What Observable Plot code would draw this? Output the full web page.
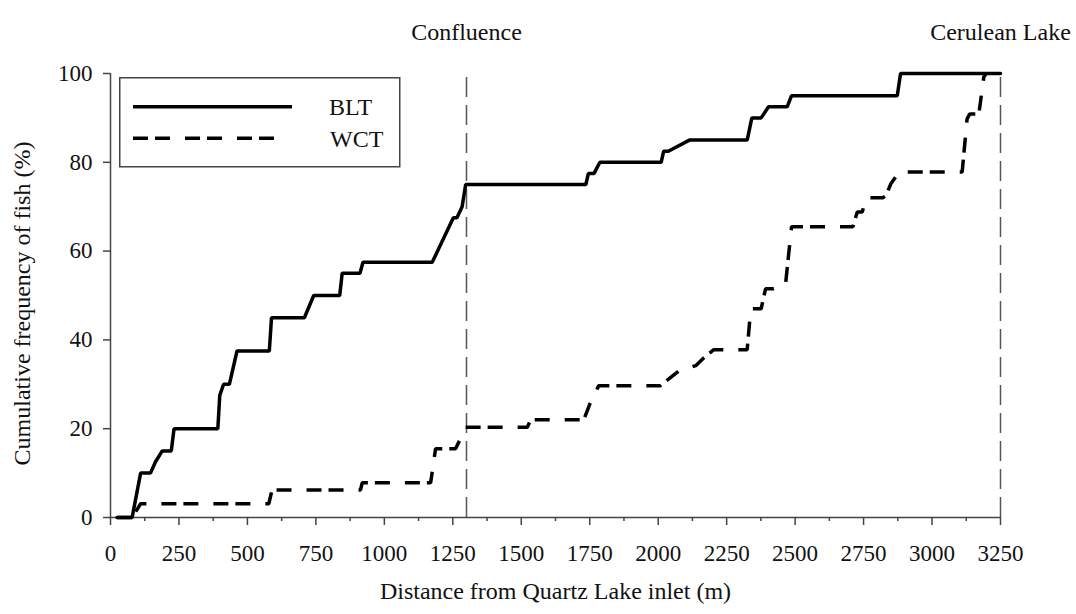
<!DOCTYPE html>
<html><head><meta charset="utf-8">
<script src="https://cdn.jsdelivr.net/npm/d3@7"></script>
<script src="https://cdn.jsdelivr.net/npm/@observablehq/plot@0.6"></script>
<style>
html,body{margin:0;padding:0;background:#fff;}
#chart{position:relative;width:1076px;height:614px;}
#legend{position:absolute;left:119px;top:77px;font-family:'Liberation Serif','Times New Roman',serif;}
</style></head><body><div id="chart"></div>
<script>
// Distance from Quartz Lake inlet (m) and cumulative frequency (%)
const bltX = [24, 79, 110, 146, 164, 189, 222, 232, 392, 399, 413, 434, 462, 580, 588, 708, 742, 837, 846, 911, 922, 1175, 1252, 1265, 1284, 1297, 1736, 1745, 1766, 1787, 2011, 2020, 2037, 2114, 2325, 2342, 2376, 2403, 2471, 2487, 2873, 2885, 3250];
const bltY = [0, 0, 10, 10, 12.5, 15, 15, 20, 20, 27.5, 30, 30, 37.5, 37.5, 45, 45, 50, 50, 55, 55, 57.5, 57.5, 67.5, 67.5, 70, 75, 75, 77.5, 77.5, 80, 80, 82.5, 82.5, 85, 85, 90, 90, 92.5, 92.5, 95, 95, 100, 100];
const wctX = [24, 79, 110, 578, 590, 913, 919, 1169, 1187, 1260, 1280, 1296, 1522, 1534, 1728, 1750, 1783, 2008, 2075, 2137, 2167, 2203, 2325, 2338, 2376, 2392, 2422, 2465, 2487, 2711, 2727, 2745, 2760, 2820, 2832, 2849, 2880, 3110, 3128, 3138, 3171, 3189, 3198];
const wctY = [0, 0, 3.1, 3.1, 6.2, 6.2, 7.8, 7.8, 15.5, 15.5, 18, 20.3, 20.3, 22, 22, 25.5, 29.7, 29.7, 33, 34.2, 36, 37.8, 37.8, 47, 47, 51.5, 51.5, 52.5, 65.5, 65.5, 68.8, 68.8, 72, 72, 72.5, 75.1, 77.8, 77.8, 89.8, 90.9, 90.9, 99.2, 100];
const landmarkNames = ["Confluence", "Cerulean Lake"];
const landmarkX = [1300, 3250];
const xTicks = [0, 250, 500, 750, 1000, 1250, 1500, 1750, 2000, 2250, 2500, 2750, 3000, 3250];
const xMinorTicks = [125, 375, 625, 875, 1125, 1375, 1625, 1875, 2125, 2375, 2625, 2875, 3125];
const yTicks = [0, 20, 40, 60, 80, 100];
const xLabel = "Distance from Quartz Lake inlet (m)";
const yLabel = "Cumulative frequency of fish (%)";
const seriesNames = ["BLT", "WCT"];

const blt = bltX.map((x, i) => ({x, y: bltY[i]}));
const wct = wctX.map((x, i) => ({x, y: wctY[i]}));
const landmarks = landmarkX.map((x, i) => ({x, name: landmarkNames[i]}));
const font = "'Liberation Serif','Times New Roman',serif";
const dashWCT = "15,7,15,15";

const plot = Plot.plot({
  width: 1076, height: 614,
  marginLeft: 110, marginRight: 76, marginTop: 73, marginBottom: 97,
  x: {domain: [0, 3250]},
  y: {domain: [0, 100]},
  style: {fontFamily: font, fontSize: "23px", color: "#111", background: "#fff", overflow: "visible"},
  marks: [
    Plot.ruleX(landmarks, {x: "x", y1: 0, y2: 100, stroke: "#555", strokeWidth: 1.5, strokeDasharray: "20,8"}),
    Plot.ruleY([0], {x1: 0, x2: 3250, stroke: "#444", strokeWidth: 1.5}),
    Plot.ruleX([0], {y1: 0, y2: 100, stroke: "#444", strokeWidth: 1.5}),
    Plot.axisX(xTicks, {tickSize: 8, tickPadding: 19, label: null, tickFormat: d => String(d), stroke: "#444", strokeWidth: 1.5}),
    Plot.axisX(xMinorTicks, {tickSize: 4, label: null, tickFormat: () => "", stroke: "#444", strokeWidth: 1.5}),
    Plot.axisY(yTicks, {tickSize: 7, tickPadding: 11, label: null, tickFormat: d => String(d), stroke: "#444", strokeWidth: 1.5}),
    Plot.line(blt, {x: "x", y: "y", stroke: "#000", strokeWidth: 3.5, strokeLinejoin: "miter"}),
    Plot.line(wct, {x: "x", y: "y", stroke: "#000", strokeWidth: 3.5, strokeDasharray: dashWCT, strokeLinecap: "butt", strokeLinejoin: "miter"}),
    Plot.text(landmarks, {x: "x", text: "name", frameAnchor: "top", dy: -51, fontSize: 24, fill: "#111"}),
    Plot.text([yLabel], {frameAnchor: "left", textAnchor: "middle", dx: -88, dy: 8, rotate: -90, fontSize: 24, fill: "#111"}),
    Plot.text([xLabel], {frameAnchor: "bottom", dy: 81, fontSize: 24, fill: "#111"})
  ]
});
const chart = document.getElementById("chart");
chart.appendChild(plot);

// In-plot legend box
const ns = "http://www.w3.org/2000/svg";
const leg = document.createElementNS(ns, "svg");
leg.setAttribute("id", "legend");
leg.setAttribute("width", 283);
leg.setAttribute("height", 92);
leg.innerHTML =
  `<rect x="0.75" y="0.75" width="280" height="89" fill="#fff" stroke="#444" stroke-width="1.5"/>` +
  `<line x1="14" x2="173" y1="29.7" y2="29.7" stroke="#000" stroke-width="3.5"/>` +
  `<line x1="14" x2="156" y1="61.3" y2="61.3" stroke="#000" stroke-width="3.5" stroke-dasharray="${dashWCT}"/>` +
  `<text x="210" y="30" dy="0.35em" font-size="24" fill="#111">${seriesNames[0]}</text>` +
  `<text x="211" y="62" dy="0.35em" font-size="24" fill="#111">${seriesNames[1]}</text>`;
chart.appendChild(leg);
</script></body></html>
